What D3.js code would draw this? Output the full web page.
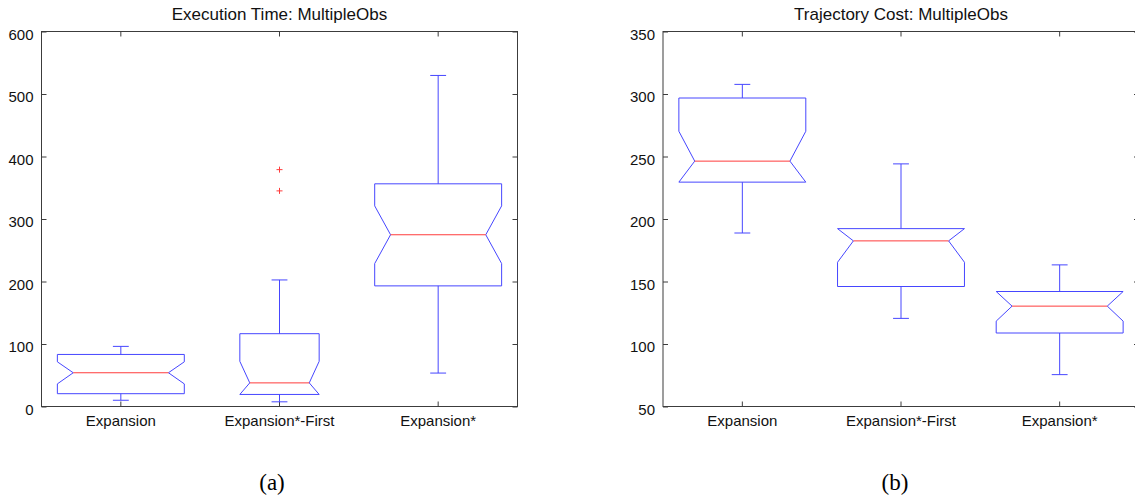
<!DOCTYPE html>
<html>
<head>
<meta charset="utf-8">
<script src="https://cdn.jsdelivr.net/npm/d3@7"></script>
<style>
  html, body { margin: 0; padding: 0; background: #fff; }
  svg { display: block; }
</style>
</head>
<body>
<svg id="chart" width="1135" height="499"></svg>
<script>
// ---------------- DATA ----------------
const categories = ["Expansion", "Expansion*-First", "Expansion*"];

// Panel (a): Execution Time
const execTitle = "Execution Time: MultipleObs";
const execTicks = [0, 100, 200, 300, 400, 500, 600];
const execLowerWhisker = [10, 7.5, 53.5];
const execQ1 = [20.5, 19.3, 193];
const execNotchLow = [36.2, 3.3, 228.7];
const execMedian = [54, 37.8, 274.8];
const execNotchHigh = [71.5, 72.3, 321];
const execQ3 = [83.3, 116.5, 356.3];
const execUpperWhisker = [96.2, 202.5, 529.7];
const execOutliers = [[], [345, 379], []];

// Panel (b): Trajectory Cost
const costTitle = "Trajectory Cost: MultipleObs";
const costTicks = [50, 100, 150, 200, 250, 300, 350];
const costLowerWhisker = [188.8, 120.5, 75.5];
const costQ1 = [229.5, 146, 108.8];
const costNotchLow = [222.4, 165.4, 118.3];
const costMedian = [246.3, 182.5, 130.3];
const costNotchHigh = [270.2, 199.6, 142.3];
const costQ3 = [296.8, 192.3, 142];
const costUpperWhisker = [307.7, 244.1, 163.3];
const costOutliers = [[], [], []];

const captions = ["(a)", "(b)"];

// ---------------- DRAWING ----------------
const svg = d3.select("#chart");
const BLUE = "#4646ff", RED = "#ff3c3c", AXIS = "#3c3c3c";
const FONT = "'Liberation Sans', Arial, Helvetica, sans-serif";

function panel(cfg) {
  const g = svg.append("g");
  const x = d3.scaleBand().domain(categories).range([cfg.x0, cfg.x1]).padding(0);
  const y = d3.scaleLinear().domain([cfg.ticks[0], cfg.ticks[cfg.ticks.length - 1]]).range([cfg.y1, cfg.y0]);
  const bw = x.bandwidth();

  // frame
  g.append("rect").attr("x", cfg.x0).attr("y", cfg.y0)
    .attr("width", cfg.x1 - cfg.x0).attr("height", cfg.y1 - cfg.y0)
    .attr("fill", "none").attr("stroke", AXIS).attr("stroke-width", 1);

  // axes (inward ticks)
  const yl = g.append("g").attr("transform", `translate(${cfg.x0},0)`)
    .call(d3.axisLeft(y).tickValues(cfg.ticks).tickSize(-5).tickSizeOuter(0).tickPadding(8));
  const yr = g.append("g").attr("transform", `translate(${cfg.x1},0)`)
    .call(d3.axisRight(y).tickValues(cfg.ticks).tickSize(-5).tickSizeOuter(0).tickFormat(""));
  const xb = g.append("g").attr("transform", `translate(0,${cfg.y1})`)
    .call(d3.axisBottom(x).tickSize(-5).tickSizeOuter(0).tickPadding(9));
  const xt = g.append("g").attr("transform", `translate(0,${cfg.y0})`)
    .call(d3.axisTop(x).tickSize(-5).tickSizeOuter(0).tickFormat(""));
  [yl, yr, xb, xt].forEach(a => {
    a.select(".domain").remove();
    a.selectAll("line").attr("stroke", AXIS);
    a.selectAll("text").attr("fill", "#111").style("font-family", FONT).style("font-size", "15px");
  });
  yl.selectAll("text").attr("dy", "0.5em");

  // title
  g.append("text").attr("x", (cfg.x0 + cfg.x1) / 2).attr("y", 20)
    .attr("text-anchor", "middle").style("font-family", FONT).style("font-size", "17px")
    .attr("fill", "#111").text(cfg.title);

  // caption
  g.append("text").attr("x", cfg.capX).attr("y", 490)
    .attr("text-anchor", "middle").style("font-family", "'Liberation Serif', 'Times New Roman', serif")
    .style("font-size", "23px").attr("fill", "#000").text(cfg.caption);

  const boxes = g.append("g");
  categories.forEach((c, i) => {
    const cx = x(c) + bw / 2;
    const hw = bw * cfg.halfWidth[i];
    const inset = hw * 0.25;
    const cap = bw * 0.05;
    const L = cx - hw, R = cx + hw;
    const q1 = cfg.q1[i], q3 = cfg.q3[i], med = cfg.median[i];
    const nLo = Math.max(cfg.notchLow[i], q1), nHi = Math.min(cfg.notchHigh[i], q3);
    const pts = [
      [L, y(q3)], [R, y(q3)], [R, y(nHi)], [R - inset, y(med)], [R, y(nLo)], [R, y(q1)],
      [L, y(q1)], [L, y(nLo)], [L + inset, y(med)], [L, y(nHi)]
    ];
    boxes.append("path").attr("d", d3.line()(pts) + "Z")
      .attr("fill", "none").attr("stroke", BLUE).attr("stroke-width", 1);
    // whiskers
    boxes.append("line").attr("x1", cx).attr("x2", cx).attr("y1", y(q3)).attr("y2", y(cfg.upper[i]))
      .attr("stroke", BLUE);
    boxes.append("line").attr("x1", cx).attr("x2", cx).attr("y1", y(q1)).attr("y2", y(cfg.lower[i]))
      .attr("stroke", BLUE);
    boxes.append("line").attr("x1", cx - cap).attr("x2", cx + cap).attr("y1", y(cfg.upper[i])).attr("y2", y(cfg.upper[i]))
      .attr("stroke", BLUE);
    boxes.append("line").attr("x1", cx - cap).attr("x2", cx + cap).attr("y1", y(cfg.lower[i])).attr("y2", y(cfg.lower[i]))
      .attr("stroke", BLUE);
    // median
    boxes.append("line").attr("x1", L + inset).attr("x2", R - inset).attr("y1", y(med)).attr("y2", y(med))
      .attr("stroke", RED);
    // outliers
    cfg.outliers[i].forEach(v => {
      const oy = y(v);
      boxes.append("path").attr("d", `M${cx - 3},${oy}H${cx + 3}M${cx},${oy - 3}V${oy + 3}`)
        .attr("stroke", RED).attr("fill", "none");
    });
  });
}

panel({
  x0: 41.5, x1: 517.5, y0: 31.5, y1: 406.5, capX: 272,
  title: execTitle, caption: captions[0], ticks: execTicks,
  halfWidth: [0.4, 0.25, 0.4],
  lower: execLowerWhisker, q1: execQ1, notchLow: execNotchLow, median: execMedian,
  notchHigh: execNotchHigh, q3: execQ3, upper: execUpperWhisker, outliers: execOutliers
});
panel({
  x0: 663, x1: 1139, y0: 31.5, y1: 406.5, capX: 895,
  title: costTitle, caption: captions[1], ticks: costTicks,
  halfWidth: [0.4, 0.4, 0.4],
  lower: costLowerWhisker, q1: costQ1, notchLow: costNotchLow, median: costMedian,
  notchHigh: costNotchHigh, q3: costQ3, upper: costUpperWhisker, outliers: costOutliers
});
</script>
</body>
</html>
